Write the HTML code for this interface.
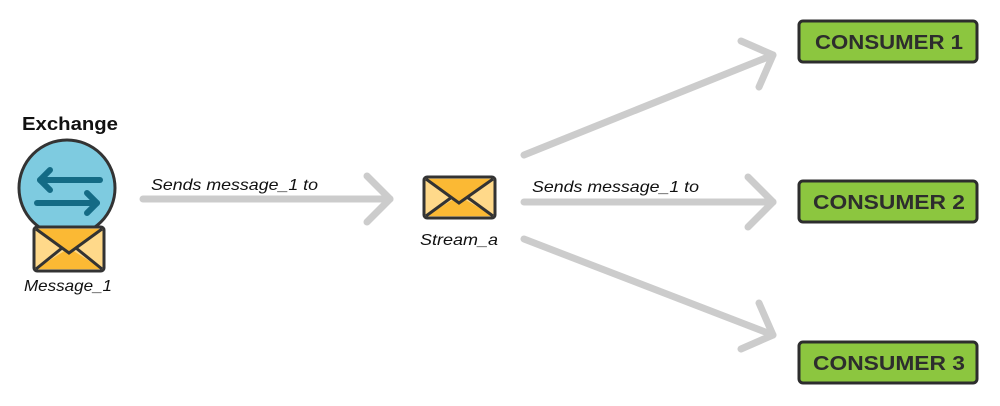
<!DOCTYPE html>
<html><head><style>
html,body{margin:0;padding:0;background:#fff;}
svg{display:block;}
text{font-family:"Liberation Sans",sans-serif;}
</style></head><body>
<svg width="1000" height="406" viewBox="0 0 1000 406" xmlns="http://www.w3.org/2000/svg">
<g stroke="#cccccc" stroke-width="7" stroke-linecap="round" stroke-linejoin="round" fill="none">
<line x1="143" y1="199" x2="390" y2="199"/>
<polyline points="367,176 390,199 367,222"/>
<line x1="524" y1="155" x2="773" y2="55"/>
<polyline points="741,41 773,55 759,87"/>
<line x1="524" y1="202" x2="773" y2="202"/>
<polyline points="748,177 773,202 748,227"/>
<line x1="524" y1="239" x2="773" y2="335"/>
<polyline points="759,303 773,335 741,349"/>
</g>
<text x="70" y="130" font-size="18" font-weight="bold" text-anchor="middle" fill="#111" textLength="96" lengthAdjust="spacingAndGlyphs">Exchange</text>
<circle cx="67" cy="188" r="48" fill="#7ecbe0" stroke="#333" stroke-width="3"/>
<g stroke="#146b85" stroke-width="6" stroke-linecap="round" fill="none" stroke-linejoin="round">
<line x1="40" y1="180" x2="100" y2="180"/><polyline points="50,170 40,180 50,190"/>
<line x1="37" y1="203" x2="97" y2="203"/><polyline points="87,193 97,203 87,213"/>
</g>
<rect x="34" y="227" width="70" height="44" rx="3" fill="#ffd98a" stroke="#333" stroke-width="3"/>
<polygon points="36,229 69,253 102,229" fill="#fbb934"/>
<polygon points="36,269 69,248 102,269" fill="#fbb934"/>
<polyline points="36,229 69,253 102,229" fill="none" stroke="#333" stroke-width="3"/>
<line x1="36" y1="269" x2="62" y2="248" stroke="#333" stroke-width="3"/>
<line x1="102" y1="269" x2="76" y2="248" stroke="#333" stroke-width="3"/>
<text x="68" y="291" font-size="16" font-style="italic" text-anchor="middle" fill="#111" textLength="88" lengthAdjust="spacingAndGlyphs">Message_1</text>
<rect x="424" y="177" width="71" height="41" rx="3" fill="#ffd98a" stroke="#333" stroke-width="3"/>
<polygon points="426,179 459,203 493,179" fill="#fbb934"/>
<polygon points="426,216 459,196 493,216" fill="#fbb934"/>
<polyline points="426,179 459,203 493,179" fill="none" stroke="#333" stroke-width="3"/>
<line x1="426" y1="216" x2="452" y2="197" stroke="#333" stroke-width="3"/>
<line x1="493" y1="216" x2="467" y2="197" stroke="#333" stroke-width="3"/>
<text x="459" y="245" font-size="16" font-style="italic" text-anchor="middle" fill="#111" textLength="78" lengthAdjust="spacingAndGlyphs">Stream_a</text>
<text x="151" y="190" font-size="16" font-style="italic" fill="#111" textLength="167" lengthAdjust="spacingAndGlyphs">Sends message_1 to</text>
<text x="532" y="192" font-size="16" font-style="italic" fill="#111" textLength="167" lengthAdjust="spacingAndGlyphs">Sends message_1 to</text>
<g stroke="#2d2d2d" stroke-width="3" fill="#8cc63f">
<rect x="799" y="21" width="178" height="41" rx="4"/>
<rect x="799" y="181" width="178" height="41" rx="4"/>
<rect x="799" y="342" width="178" height="41" rx="4"/>
</g>
<g font-size="20" font-weight="bold" fill="#2d2d2d" text-anchor="middle">
<text x="889" y="49" textLength="148" lengthAdjust="spacingAndGlyphs">CONSUMER 1</text>
<text x="889" y="209" textLength="152" lengthAdjust="spacingAndGlyphs">CONSUMER 2</text>
<text x="889" y="370" textLength="152" lengthAdjust="spacingAndGlyphs">CONSUMER 3</text>
</g>
</svg>
</body></html>
